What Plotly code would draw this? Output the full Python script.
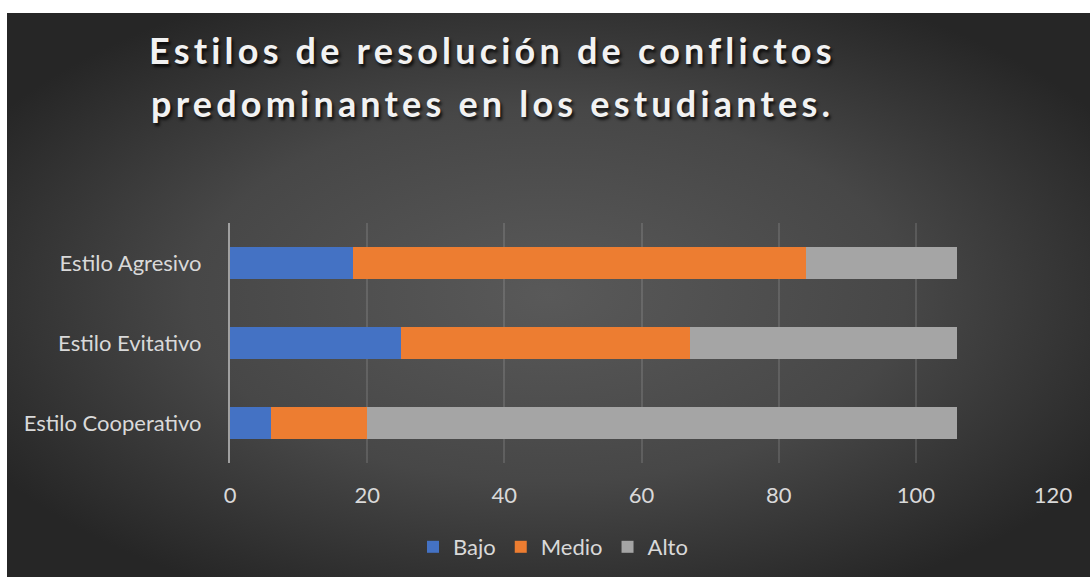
import base64
import plotly.graph_objects as go

categories = ["Estilo Cooperativo", "Estilo Evitativo", "Estilo Agresivo"]
bajo = [6, 25, 18]
medio = [14, 42, 66]
alto = [86, 39, 22]
series_names = ["Bajo", "Medio", "Alto"]
x_ticks = [0, 20, 40, 60, 80, 100, 120]
title_lines = ["Estilos de resolución de conflictos", "predominantes en los estudiantes."]

W, H = 1090, 577
BX0, BY0 = 7, 13

colors = ["#4472c4", "#ed7d31", "#a5a5a5"]
FONT = "Lato"
TXT = "#d9d9d9"

bw, bh = W - BX0, H - BY0
svg = f'''<svg xmlns="http://www.w3.org/2000/svg" width="{bw}" height="{bh}" viewBox="0 0 {bw} {bh}" preserveAspectRatio="none">
<defs><radialGradient id="g" cx="50%" cy="50%" r="60%">
<stop offset="0" stop-color="#595959"/>
<stop offset="0.55" stop-color="#474747"/>
<stop offset="1" stop-color="#262626"/>
</radialGradient></defs>
<rect x="0" y="0" width="{bw}" height="{bh}" fill="url(#g)"/>
</svg>'''
src = "data:image/svg+xml;base64," + base64.b64encode(svg.encode()).decode()

fig = go.Figure()
for name, vals, c in zip(series_names, [bajo, medio, alto], colors):
    fig.add_trace(go.Bar(y=categories, x=vals, name=name, orientation="h",
                         marker=dict(color=c, line=dict(width=0))))

px_x0, px_x1 = 230, 1053
px_yt, px_yb = 223, 463

fig.update_layout(
    width=W, height=H,
    margin=dict(l=0, r=0, t=0, b=0, pad=0, autoexpand=False),
    paper_bgcolor="white",
    plot_bgcolor="rgba(0,0,0,0)",
    barmode="stack",
    bargap=0.59,
    font=dict(family=FONT, color=TXT, size=22),
    images=[dict(source=src, xref="paper", yref="paper", x=BX0 / W, y=1 - BY0 / H,
                 sizex=bw / W, sizey=bh / H, sizing="stretch", layer="below",
                 xanchor="left", yanchor="top")],
    xaxis=dict(domain=[px_x0 / W, px_x1 / W], range=[0, 120], tickvals=x_ticks,
               automargin=False,
               showgrid=True, gridcolor="rgba(255,255,255,0.12)", gridwidth=1.5,
               zeroline=False, showline=False, ticks="outside", ticklen=13,
               tickcolor="rgba(0,0,0,0)", tickfont=dict(size=22, color=TXT, family=FONT)),
    yaxis=dict(domain=[1 - px_yb / H, 1 - px_yt / H], automargin=False,
               showline=True, linecolor="#a0a0a0",
               linewidth=2, showgrid=False, ticks="outside", ticklen=22,
               tickcolor="rgba(0,0,0,0)", tickfont=dict(size=22, color=TXT, family=FONT)),
    legend=dict(orientation="h", x=553 / W, xanchor="center", y=1 - 547 / H, yanchor="middle",
                font=dict(size=22, color=TXT, family=FONT), bgcolor="rgba(0,0,0,0)",
                itemwidth=30, traceorder="normal"),
    showlegend=True,
)

style = "letter-spacing:4.2px;text-shadow:2px 3px 3px rgba(0,0,0,0.75)"
for i, (line, ypx) in enumerate(zip(title_lines, [50, 103])):
    fig.add_annotation(text=f'<span style="{style}">{line}</span>', xref="paper", yref="paper",
                       x=492 / W, y=1 - ypx / H, xanchor="center", yanchor="middle",
                       showarrow=False,
                       font=dict(family=FONT, size=36, color="#f2f2f2", weight="bold"))

fig.write_html("out.html")
